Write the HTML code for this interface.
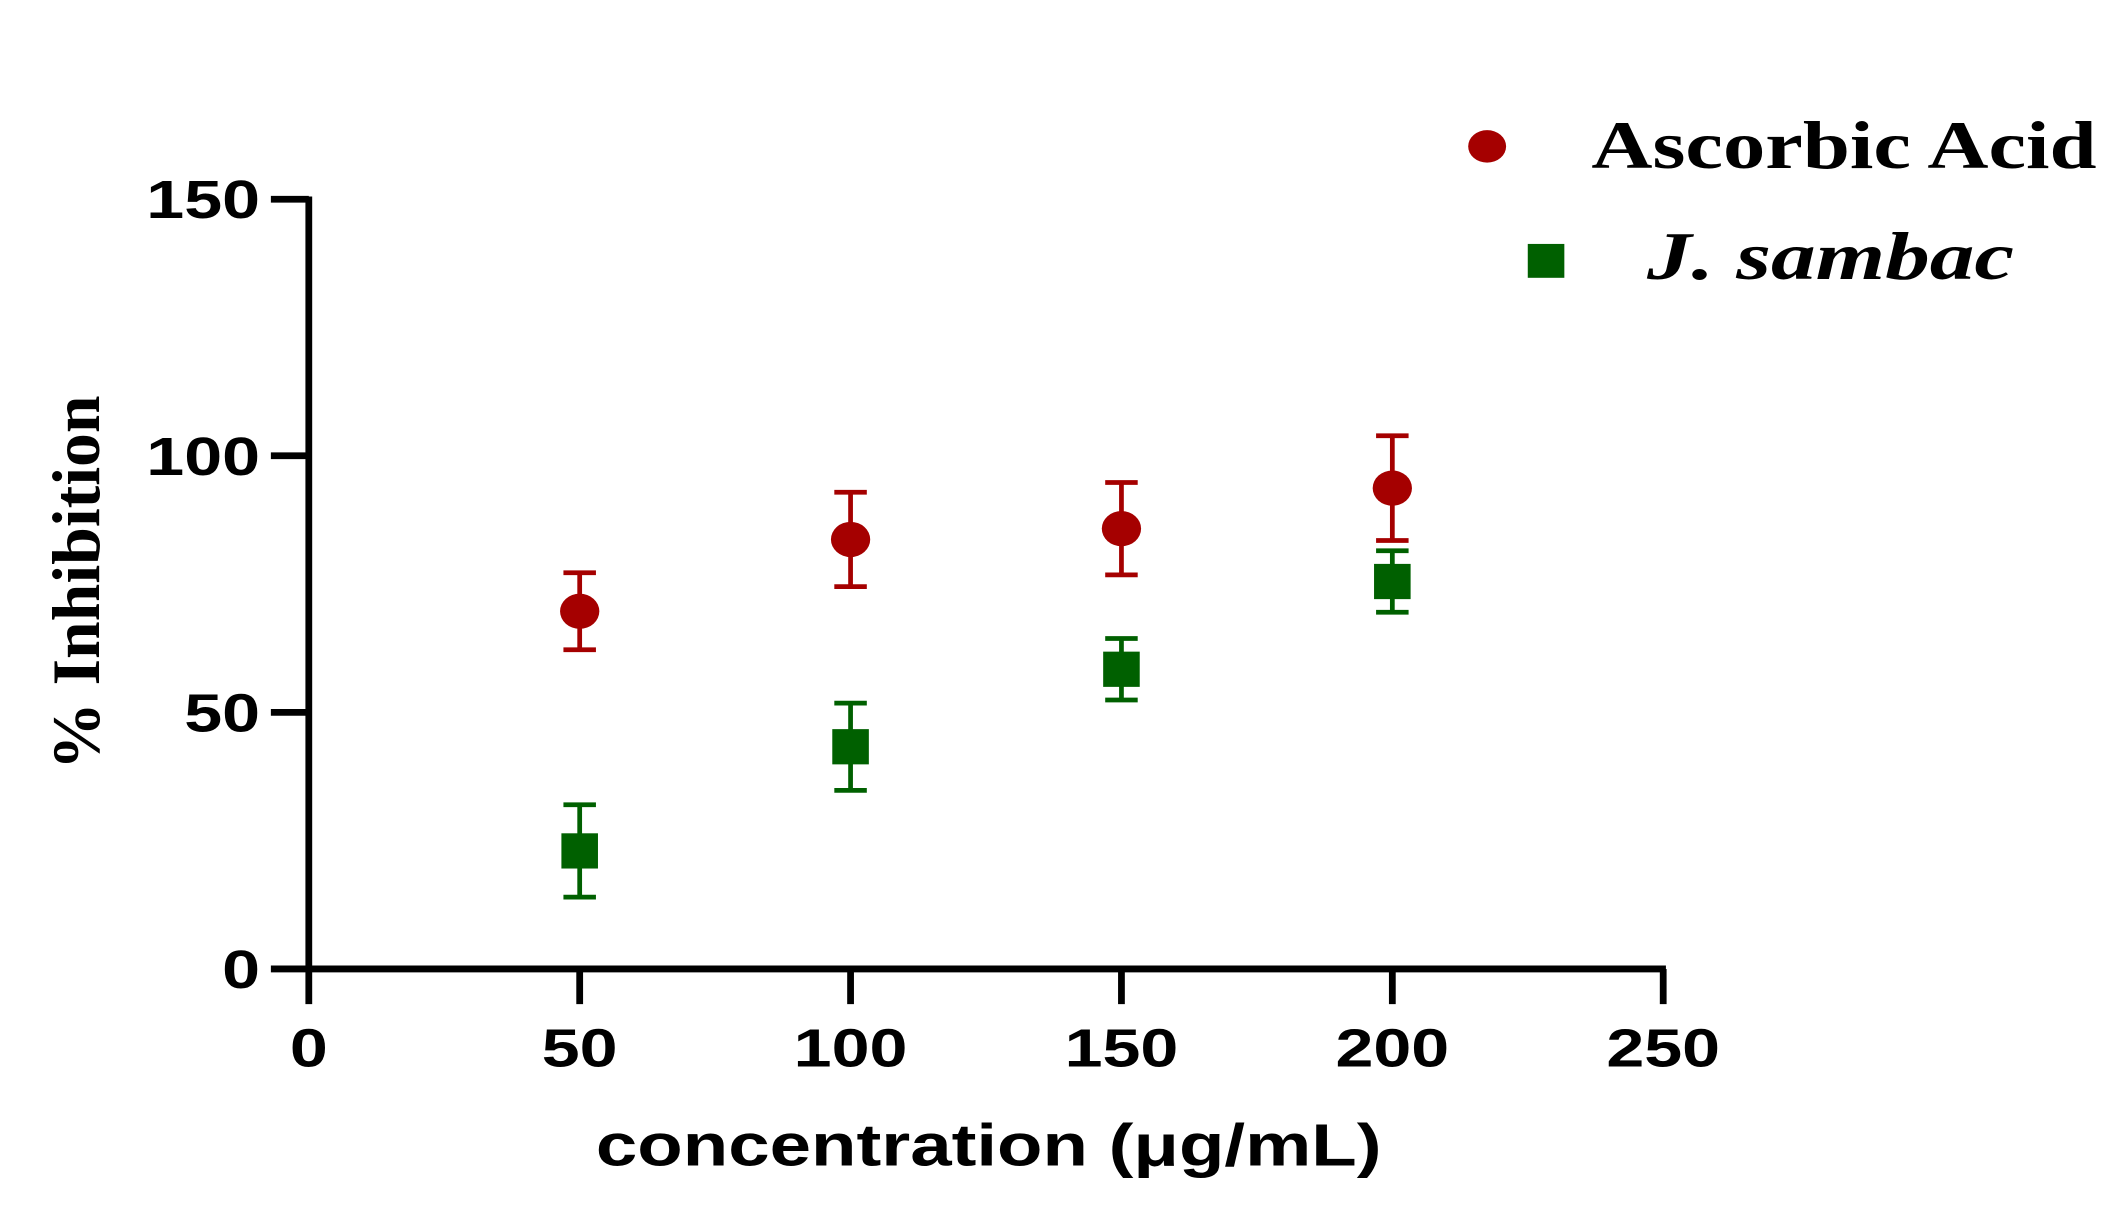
<!DOCTYPE html>
<html><head><meta charset="utf-8"><style>html,body{margin:0;padding:0;background:#fff;}svg{display:block}</style></head>
<body>
<svg width="2121" height="1221" viewBox="0 0 1566 901" preserveAspectRatio="none" xmlns="http://www.w3.org/2000/svg">
<g id="axes"></g>
<g id="marks"></g>
<text x="440" y="860" textLength="580" lengthAdjust="spacingAndGlyphs" font-family="Liberation Sans, sans-serif" font-weight="bold" font-size="44">concentration (μg/mL)</text>
<text transform="translate(73,430) rotate(-90)" text-anchor="middle" font-family="Liberation Serif, serif" font-weight="bold" font-size="50">% Inhibition</text>
<g>
<ellipse cx="1098" cy="108" rx="14" ry="12" fill="#a50000"/>
<text x="1175" y="124" textLength="373" lengthAdjust="spacingAndGlyphs" font-family="Liberation Serif, serif" font-weight="bold" font-size="50">Ascorbic Acid</text>
<rect x="1128" y="180" width="27" height="25" fill="#006000"/>
<text x="1216" y="206" textLength="271" lengthAdjust="spacingAndGlyphs" font-family="Liberation Serif, serif" font-weight="bold" font-style="italic" font-size="50">J. sambac</text>
</g>
</svg>
<script>
const categories=[50,100,150,200];
const ascorbicValues=[69.7,83.7,85.8,93.7];
const ascorbicErrors=[7.5,9.2,9,10.2];
const sambacValues=[23,43.3,58.4,75.5];
const sambacErrors=[9,8.5,6,6];
const xTicks=[0,50,100,150,200,250];
const yTicks=[0,50,100,150];
const NS="http://www.w3.org/2000/svg";
const X=v=>228+v*4;
const Y=v=>715-v*(568/150);
function mk(tag,attrs,parent){const e=document.createElementNS(NS,tag);for(const k in attrs)e.setAttribute(k,attrs[k]);parent.appendChild(e);return e;}
const ax=document.getElementById('axes');
let l=mk('line',{x1:X(0),y1:Y(0),x2:X(250)+2,y2:Y(0),stroke:'#000','stroke-width':5},ax);


l=mk('line',{x1:X(0),y1:Y(0)+2,x2:X(0),y2:Y(150)-2,stroke:'#000','stroke-width':5},ax);


xTicks.forEach(t=>{
 const tk=mk('line',{x1:X(t),y1:Y(0),x2:X(t),y2:Y(0)+26,stroke:'#000','stroke-width':5},ax);
 
 
 const s=String(t);
 const tx=mk('text',{x:X(t),y:787,'text-anchor':'middle',textLength:28*s.length,lengthAdjust:'spacingAndGlyphs','font-family':'Liberation Sans, sans-serif','font-weight':'bold','font-size':40},ax);
 tx.textContent=s;
 
 
});
yTicks.forEach(t=>{
 const tk=mk('line',{x1:X(0)-28,y1:Y(t),x2:X(0),y2:Y(t),stroke:'#000','stroke-width':5},ax);
 
 
 const s=String(t);
 const tx=mk('text',{x:192,y:Y(t)+14,'text-anchor':'end',textLength:28*s.length,lengthAdjust:'spacingAndGlyphs','font-family':'Liberation Sans, sans-serif','font-weight':'bold','font-size':40},ax);
 tx.textContent=s;
 
 
});
const mg=document.getElementById('marks');
function errbar(x,v,e,col){
 const g=mk('g',{stroke:col,'stroke-width':3.5},mg);
 
 
 mk('line',{x1:X(x),y1:Y(v+e),x2:X(x),y2:Y(v-e)},g);
 mk('line',{x1:X(x)-12,y1:Y(v+e),x2:X(x)+12,y2:Y(v+e)},g);
 mk('line',{x1:X(x)-12,y1:Y(v-e),x2:X(x)+12,y2:Y(v-e)},g);
}
categories.forEach((c,i)=>{
 errbar(c,ascorbicValues[i],ascorbicErrors[i],'#a50000');
 const p=mk('ellipse',{cx:X(c),cy:Y(ascorbicValues[i]),rx:14.5,ry:13,fill:'#a50000'},mg);
 
 
 errbar(c,sambacValues[i],sambacErrors[i],'#006000');
 const s=mk('rect',{x:X(c)-13.5,y:Y(sambacValues[i])-13,width:27,height:26,fill:'#006000'},mg);
 
 
});
</script>
</body></html>
